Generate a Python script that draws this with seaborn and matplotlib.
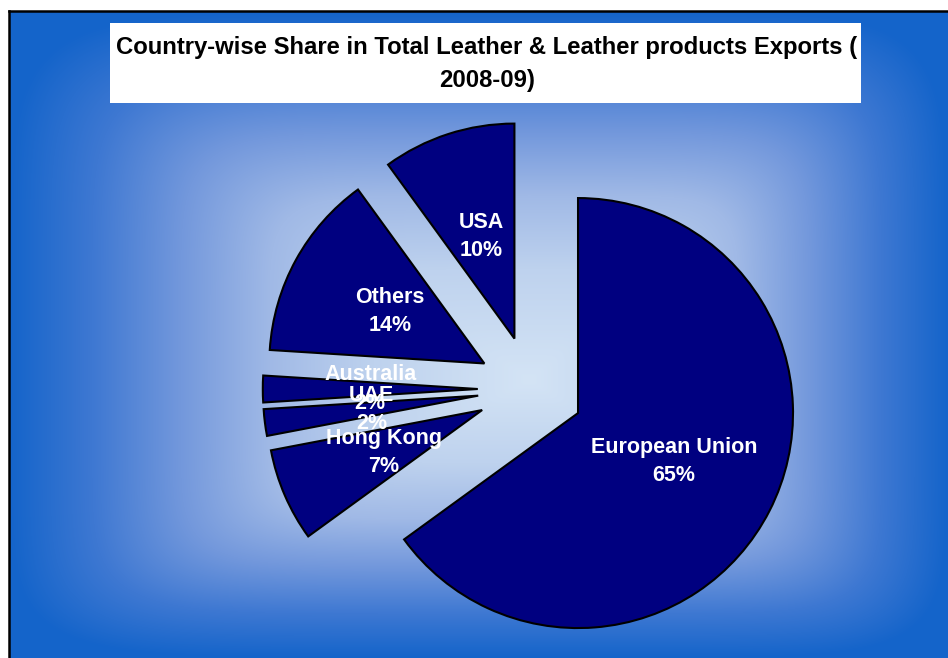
import numpy as np
import matplotlib
matplotlib.use("Agg")
import matplotlib.pyplot as plt
import matplotlib.patches as mpatches
import seaborn as sns

# ---- data ----
countries = ["European Union", "Hong Kong", "UAE", "Australia", "Others", "USA"]
shares = [65, 7, 2, 2, 14, 10]
title_text = "Country-wise Share in Total Leather & Leather products Exports (\n2008-09)"

sns.set_theme(style="white")
plt.rcParams["font.family"] = ["Liberation Sans", "DejaVu Sans"]

W, H = 948, 658
fig = plt.figure(figsize=(W / 100, H / 100), dpi=100, facecolor="white")

# ---- background gradient panel (rectangular "from centre" gradient) ----
x0, y0 = 9, 11            # panel left / top in pixels
cx, cy = 530.0, 380.0     # gradient centre (pixels, from top-left)
xs = np.arange(x0, W) + 0.5
ys = np.arange(y0, H) + 0.5
X, Y = np.meshgrid(xs, ys)
tx = np.where(X < cx, (cx - X) / (cx - x0), (X - cx) / (W - cx))
ty = np.where(Y < cy, (cy - Y) / (cy - y0), (Y - cy) / (H - cy))
p = 7.0
t = np.clip((tx ** p + ty ** p) ** (1 / p), 0, 1)
stops = [0.0, 0.3, 0.5, 0.67, 0.84, 1.0]
cols = np.array([
    (212, 228, 245),
    (190, 210, 238),
    (160, 185, 230),
    (115, 152, 220),
    (62, 120, 210),
    (20, 100, 202),
]) / 255.0
img = np.dstack([np.interp(t, stops, cols[:, k]) for k in range(3)])

bg = fig.add_axes([x0 / W, 0, (W - x0) / W, (H - y0) / H])
bg.imshow(img, aspect="auto", extent=[0, 1, 0, 1], interpolation="bilinear")
bg.set_xticks([])
bg.set_yticks([])
for side in ["right", "bottom"]:
    bg.spines[side].set_visible(False)
for side in ["left", "top"]:
    bg.spines[side].set_visible(True)
    bg.spines[side].set_color("black")
    bg.spines[side].set_linewidth(1.8)

# ---- pie ----
R = 215.0                       # radius in pixels
pcx, pcy = 530.8, 389.0         # true pie centre (pixels from top-left)
left_px, right_px, top_px, bot_px = 190, 880, 60, H
ax = fig.add_axes([left_px / W, 1 - bot_px / H,
                   (right_px - left_px) / W, (bot_px - top_px) / H])
labels = [f"{c}\n{v}%" for c, v in zip(countries, shares)]
wedges, texts = ax.pie(
    shares,
    labels=labels,
    startangle=90,
    counterclock=False,
    explode=[0.2465] * len(shares),
    colors=["#000080"] * len(shares),
    labeldistance=0.5,
    wedgeprops=dict(edgecolor="black", linewidth=1.5),
    textprops=dict(color="white", fontsize=15.5, fontweight="bold", linespacing=1.45),
)
for tx_ in texts:
    tx_.set_horizontalalignment("center")
ax.set_xlim((left_px - pcx) / R, (right_px - pcx) / R)
ax.set_ylim(-(bot_px - pcy) / R, (pcy - top_px) / R)
ax.axis("off")

# ---- title box ----
fig.patches.append(mpatches.Rectangle((110 / W, 1 - 103 / H), 751 / W, 80 / H,
                                      transform=fig.transFigure, facecolor="white",
                                      edgecolor="none", zorder=2))
fig.text(487 / W, 1 - 64 / H, title_text, ha="center", va="center",
         fontsize=17.2, fontweight="bold", color="black", linespacing=1.52, zorder=3)

fig.savefig("out.png", dpi=100, facecolor="white")
